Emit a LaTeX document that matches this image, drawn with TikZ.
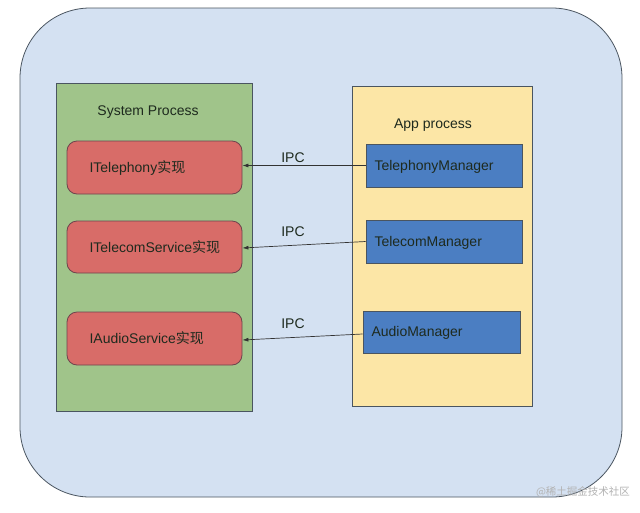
\documentclass[tikz,border=0pt]{standalone}
\usepackage{fontspec}
\setmainfont{Liberation Sans}
\newfontfamily\cjk{Noto Sans CJK SC}
\usetikzlibrary{arrows.meta}
\definecolor{outerbg}{HTML}{D4E1F2}
\definecolor{greenbg}{HTML}{A0C48A}
\definecolor{redbox}{HTML}{D86C68}
\definecolor{bluebox}{HTML}{4B7EC2}
\definecolor{yellowbg}{HTML}{FCE6A6}
\definecolor{edge}{HTML}{4A5560}
\definecolor{txt}{HTML}{1E2A1E}
\tikzset{
  every node/.style={font=\fontsize{14}{16}\selectfont, text=txt},
  panel/.style={draw=edge, line width=0.8pt, inner sep=0pt},
  implbox/.style={draw=edge!80!red, fill=redbox, rounded corners=10pt, line width=0.8pt, inner sep=0pt},
  mgrbox/.style={draw=edge, fill=bluebox, line width=0.8pt, inner sep=0pt},
  ipc/.style={draw=black!80, line width=0.7pt, -{Latex[length=6pt,width=4pt]}},
}
\begin{document}
\begin{tikzpicture}[x=1pt,y=-1pt]
\useasboundingbox (0,0) rectangle (640,512);
\fill[white] (0,0) rectangle (640,512);
% outer frame
\node[panel, fill=outerbg, rounded corners=70pt, minimum width=602pt, minimum height=489pt] (outer) at (321,252.5) {};
% process panels
\node[panel, fill=greenbg, minimum width=196pt, minimum height=328pt] (sys) at (154,247) {};
\node[panel, fill=yellowbg, minimum width=180pt, minimum height=320pt] (app) at (442,246) {};
\node (syslbl) at (148,112.5) {System Process};
\node (applbl) at (433,125.5) {App process};
% implementation boxes
\node[implbox, minimum width=175pt, minimum height=53pt] (r1) at (154.5,167.5) {};
\node[implbox, minimum width=175pt, minimum height=52pt] (r2) at (154.5,247) {};
\node[implbox, minimum width=175pt, minimum height=53pt] (r3) at (154.5,338.5) {};
\node[anchor=west] (t1) at (86,168.5) {ITelephony{\cjk 实现}};
\node[anchor=west] (t2) at (86,247.5) {ITelecomService{\cjk 实现}};
\node[anchor=west] (t3) at (86,338.5) {IAudioService{\cjk 实现}};
% manager boxes
\node[mgrbox, minimum width=156pt, minimum height=43pt] (b1) at (444,165.5) {};
\node[mgrbox, minimum width=156pt, minimum height=43pt] (b2) at (444,241.5) {};
\node[mgrbox, minimum width=157pt, minimum height=42pt] (b3) at (441.5,332) {};
\node[anchor=west] (m1) at (371,166.5) {TelephonyManager};
\node[anchor=west] (m2) at (371,242.5) {TelecomManager};
\node[anchor=west] (m3) at (368,332.5) {AudioManager};
% IPC connectors
\draw[ipc] (b1.west) -- ([yshift=2pt]r1.east);
\draw[ipc] (b2.west) -- ([yshift=-1pt]r2.east);
\draw[ipc] ([yshift=-2pt]b3.west) -- ([yshift=-1.5pt]r3.east);
\node (ipc1) at (293,158) {IPC};
\node (ipc2) at (293,232) {IPC};
\node (ipc3) at (293,324) {IPC};
% watermark
\node[text=black!30, font=\fontsize{10.5}{12}\selectfont\cjk] (wm) at (583,492) {@稀土掘金技术社区};
\end{tikzpicture}
\end{document}
